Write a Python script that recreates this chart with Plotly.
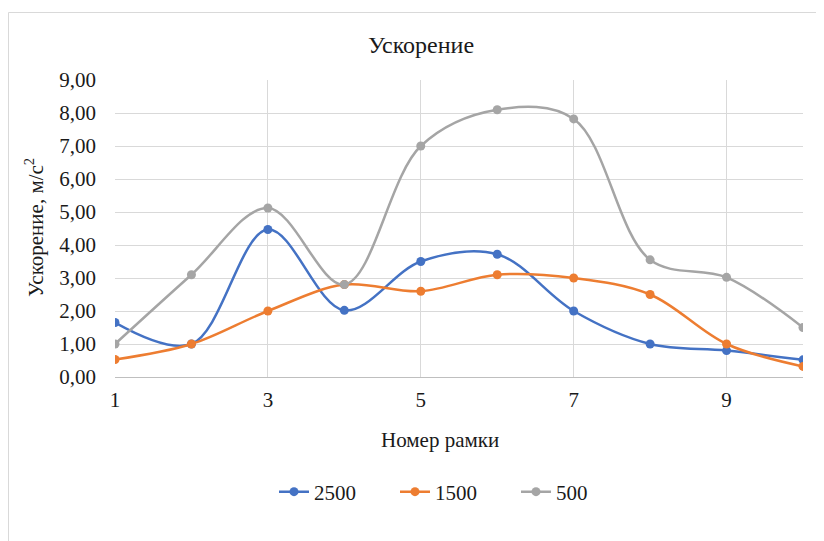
import plotly.graph_objects as go

frames = [1, 2, 3, 4, 5, 6, 7, 8, 9, 10]
s2500 = [1.65, 1.0, 4.47, 2.02, 3.5, 3.72, 2.0, 1.0, 0.8, 0.52]
s1500 = [0.53, 1.0, 2.0, 2.8, 2.6, 3.1, 3.0, 2.5, 1.0, 0.32]
s500 = [1.0, 3.1, 5.12, 2.8, 7.0, 8.1, 7.82, 3.55, 3.02, 1.5]
series_names = ["2500", "1500", "500"]
colors = ["#4472C4", "#ED7D31", "#A5A5A5"]

# page has an 8px body margin; work in figure coordinates (page - 8)
OFF = 8
W, H = 816, 533
L, R, T, B = 115 - OFF, 803 - OFF, 80 - OFF, 377 - OFF
pw, ph = R - L, B - T


def px(x):
    return (x - OFF - L) / pw


def py(y):
    return (B - (y - OFF)) / ph


fig = go.Figure()
for name, vals, c in zip(series_names, [s2500, s1500, s500], colors):
    fig.add_trace(go.Scatter(
        x=frames, y=vals, name=name, mode="lines+markers",
        line=dict(color=c, width=2.5, shape="spline", smoothing=1.0),
        marker=dict(color=c, size=9),
    ))

font_family = "Liberation Serif, Times New Roman, serif"
txt = "#1a1a1a"

fig.update_layout(
    width=W, height=H,
    margin=dict(l=L, r=W - R, t=T, b=H - B),
    paper_bgcolor="white", plot_bgcolor="white",
    separators=", ",
    font=dict(family=font_family, size=21, color=txt),
    title=dict(text="Ускорение", x=(421 - OFF) / W, xanchor="center",
               y=1 - (45 - OFF) / H, yanchor="middle",
               font=dict(family=font_family, size=24, color=txt)),
    showlegend=True,
    legend=dict(orientation="h", x=px(274), xanchor="left",
                y=py(492), yanchor="middle",
                font=dict(family=font_family, size=21, color=txt),
                entrywidth=76, entrywidthmode="pixels"),
    xaxis=dict(range=[1, 10], tick0=1, dtick=2, showgrid=True,
               gridcolor="#D9D9D9", gridwidth=1, zeroline=False,
               showline=True, linecolor="#BFBFBF", linewidth=1,
               ticks="", tickfont=dict(size=21, color=txt),
               ticklabelstandoff=4),
    yaxis=dict(range=[0, 9], dtick=1, tickformat=".2f", showgrid=True,
               gridcolor="#D9D9D9", gridwidth=1, zeroline=False,
               showline=False, ticks="", tickfont=dict(size=21, color=txt),
               ticklabelstandoff=18),
    annotations=[
        dict(text="Номер рамки", xref="paper", yref="paper",
             x=px(440), y=py(440), xanchor="center", yanchor="middle",
             showarrow=False, font=dict(family=font_family, size=21, color=txt)),
        dict(text="Ускорение, м/с<sup>2</sup>", xref="paper", yref="paper",
             x=px(34), y=py(228), xanchor="center", yanchor="middle",
             textangle=-90, showarrow=False,
             font=dict(family=font_family, size=21, color=txt)),
    ],
    shapes=[
        dict(type="rect", xref="paper", yref="paper",
             x0=px(8.5), x1=px(845),
             y0=py(570), y1=py(12.5),
             line=dict(color="#D9D9D9", width=1), layer="below"),
    ],
)

fig.write_html("out.html")
